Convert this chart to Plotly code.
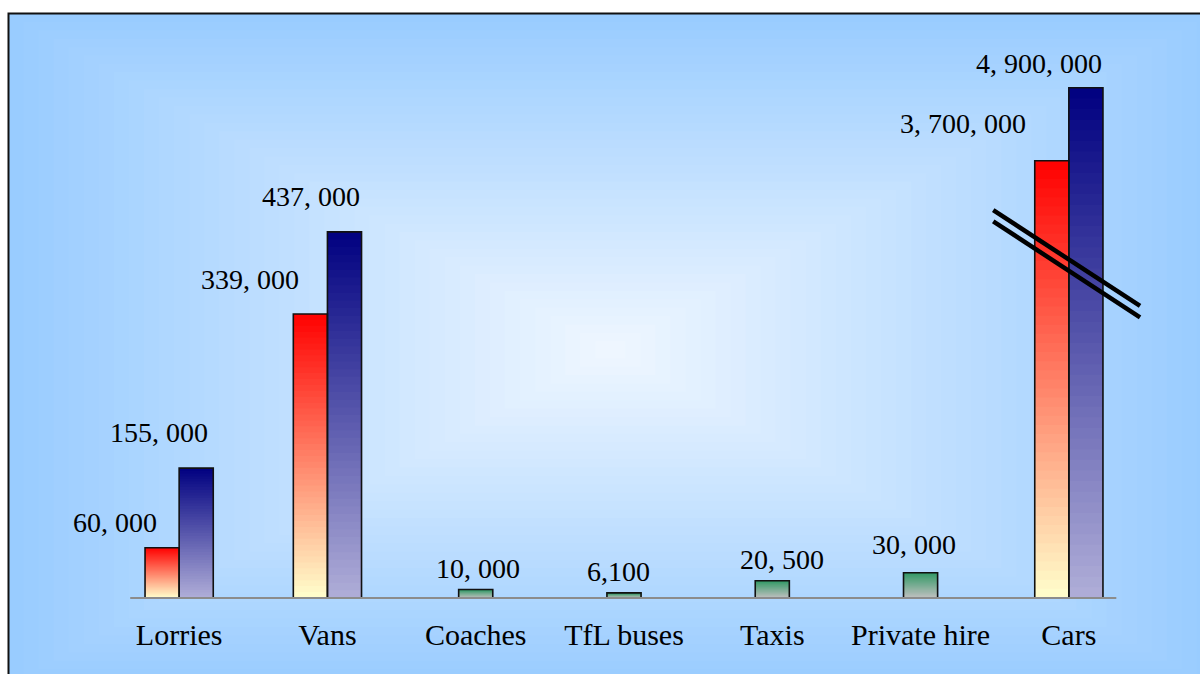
import plotly.graph_objects as go

# ---- data -------------------------------------------------------------
categories = ["Lorries", "Vans", "Coaches", "TfL buses", "Taxis", "Private hire", "Cars"]

series_1 = [60000, 339000, None, None, None, None, 3700000]
series_2 = [155000, 437000, None, None, None, None, 4900000]
series_3 = [None, None, 10000, 6100, 20500, 30000, None]

labels_1 = ["60, 000", "339, 000", None, None, None, None, "3, 700, 000"]
labels_2 = ["155, 000", "437, 000", None, None, None, None, "4, 900, 000"]
labels_3 = [None, None, "10, 000", "6,100", "20, 500", "30, 000", None]

# ---- broken scale for the Cars column ----------------------------------
BROKEN_CATEGORY = "Cars"
BREAK_AT = 273000
ABOVE_BREAK_SCALE = 0.0726


def shown(cat, v):
    """Height actually drawn: Cars values are compressed above the break."""
    if v is None:
        return None
    if cat == BROKEN_CATEGORY and v > BREAK_AT:
        return BREAK_AT + (v - BREAK_AT) * ABOVE_BREAK_SCALE
    return v


# ---- page geometry -----------------------------------------------------
W, H = 1200, 674
Y_MIN, Y_MAX = -12000, 666000
M_L, M_R, M_T, M_B = 105, 57, 40, 66
PW, PH = W - M_L - M_R, H - M_T - M_B
BAR_W = 0.23
FONT = "Liberation Serif"


def px_x(px):
    return (px - M_L) / PW


def px_y(py):
    return (H - M_B - py) / PH


def hex_rgb(h):
    h = h.lstrip("#")
    return tuple(int(h[i:i + 2], 16) for i in (0, 2, 4))


def mix(c0, c1, t):
    a, b = hex_rgb(c0), hex_rgb(c1)
    return "rgb(%d,%d,%d)" % tuple(round(a[i] + (b[i] - a[i]) * t) for i in range(3))


N_STEPS = 48


def gradient_bars(values, top_color, bottom_color, offset):
    """Vertical colour ramp: each bar is layered from bottom to top."""
    xs, bases, ys, colors = [], [], [], []
    for cat, v in zip(categories, values):
        h = shown(cat, v)
        if h is None:
            continue
        for k in range(N_STEPS):
            b = h * k / N_STEPS
            xs.append(cat)
            bases.append(b)
            ys.append(h - b)
            colors.append(mix(bottom_color, top_color, (k + 0.5) / N_STEPS))
    return go.Bar(
        x=xs, y=ys, base=bases, offset=offset, width=BAR_W,
        marker=dict(color=colors, line=dict(width=0)),
        hoverinfo="skip", showlegend=False,
    )


def outline_bars(values, offset, name):
    return go.Bar(
        x=categories, y=[shown(c, v) for c, v in zip(categories, values)],
        offset=offset, width=BAR_W, name=name,
        customdata=values,
        marker=dict(color="rgba(0,0,0,0)", line=dict(color="#111111", width=1.6)),
        hovertemplate="%{x}: %{customdata:,}<extra></extra>",
        showlegend=False,
    )


series_styles = [
    # values, labels, top colour, bottom colour, bar offset, name
    (series_1, labels_1, "#FF0000", "#FFFFCC", -BAR_W, "Series 1"),
    (series_2, labels_2, "#000080", "#B0AED8", 0.0, "Series 2"),
    (series_3, labels_3, "#339966", "#C0C0C0", -BAR_W / 2, "Series 3"),
]

fig = go.Figure()
for vals, _, top, bottom, off, name in series_styles:
    fig.add_trace(gradient_bars(vals, top, bottom, off))
for vals, _, top, bottom, off, name in series_styles:
    fig.add_trace(outline_bars(vals, off, name))

# ---- value labels (pixel offsets from the top centre of each bar) ------
label_nudge = {
    ("Series 1", "Lorries"): (-47, 25),
    ("Series 2", "Lorries"): (-37, 36),
    ("Series 1", "Vans"): (-60, 34),
    ("Series 2", "Vans"): (-33, 35),
    ("Series 3", "Coaches"): (2, 21),
    ("Series 3", "TfL buses"): (-6, 21),
    ("Series 3", "Taxis"): (10, 21),
    ("Series 3", "Private hire"): (-7, 28),
    ("Series 1", "Cars"): (-89, 37),
    ("Series 2", "Cars"): (-47, 24),
}

annotations = []
for vals, labs, _, _, off, name in series_styles:
    for i, (cat, v, lab) in enumerate(zip(categories, vals, labs)):
        if v is None or lab is None:
            continue
        dx, dy = label_nudge.get((name, cat), (0, 22))
        annotations.append(dict(
            x=i + off + BAR_W / 2, y=shown(cat, v), xref="x", yref="y",
            text=lab, showarrow=False, xanchor="center", yanchor="middle",
            xshift=dx, yshift=dy,
            font=dict(family=FONT, size=28, color="black"),
        ))

# ---- background: rectangular "from centre" gradient --------------------
shapes = []
BG_X0, BG_Y0, BG_X1, BG_Y1 = 8.5, 13.5, 1212, 686
cx, cy = (BG_X0 + BG_X1) / 2, (BG_Y0 + BG_Y1) / 2
hw, hh = (BG_X1 - BG_X0) / 2, (BG_Y1 - BG_Y0) / 2
N_BANDS = 40
for k in range(N_BANDS):
    f = k / N_BANDS
    shapes.append(dict(
        type="rect", xref="paper", yref="paper", layer="below",
        x0=px_x(cx - hw * (1 - f)), x1=px_x(cx + hw * (1 - f)),
        y0=px_y(cy + hh * (1 - f)), y1=px_y(cy - hh * (1 - f)),
        fillcolor=mix("#99CCFF", "#EEF6FF", k / (N_BANDS - 1)),
        line=dict(width=0),
    ))
shapes.append(dict(
    type="rect", xref="paper", yref="paper", layer="below",
    x0=px_x(BG_X0), x1=px_x(BG_X1), y0=px_y(BG_Y1), y1=px_y(BG_Y0),
    fillcolor="rgba(0,0,0,0)", line=dict(color="#111111", width=2),
))

# baseline
shapes.append(dict(
    type="line", xref="x", yref="y", layer="above",
    x0=-0.33, x1=6.32, y0=0, y1=0,
    line=dict(color="#8C8C8C", width=2),
))

# scale-break marks across the Cars bars
cars_i = categories.index(BROKEN_CATEGORY)
for drop in (0, 13500):
    shapes.append(dict(
        type="line", xref="x", yref="y", layer="above",
        x0=cars_i - 0.51, x1=cars_i + 0.48,
        y0=463000 - drop, y1=348500 - drop,
        line=dict(color="black", width=4.5),
    ))

fig.update_layout(
    width=W, height=H,
    margin=dict(l=M_L, r=M_R, t=M_T, b=M_B, pad=0),
    paper_bgcolor="white", plot_bgcolor="rgba(0,0,0,0)",
    barmode="overlay",
    font=dict(family=FONT, size=28, color="black"),
    shapes=shapes, annotations=annotations,
    xaxis=dict(
        type="category", categoryorder="array", categoryarray=categories,
        range=[-0.5, len(categories) - 0.5], showgrid=False, zeroline=False,
        showline=False, ticks="", ticklabelstandoff=6, automargin=False,
        tickfont=dict(family=FONT, size=30, color="black"), fixedrange=True,
    ),
    yaxis=dict(range=[Y_MIN, Y_MAX], visible=False, fixedrange=True),
    showlegend=False,
)

fig.write_html("out.html")
